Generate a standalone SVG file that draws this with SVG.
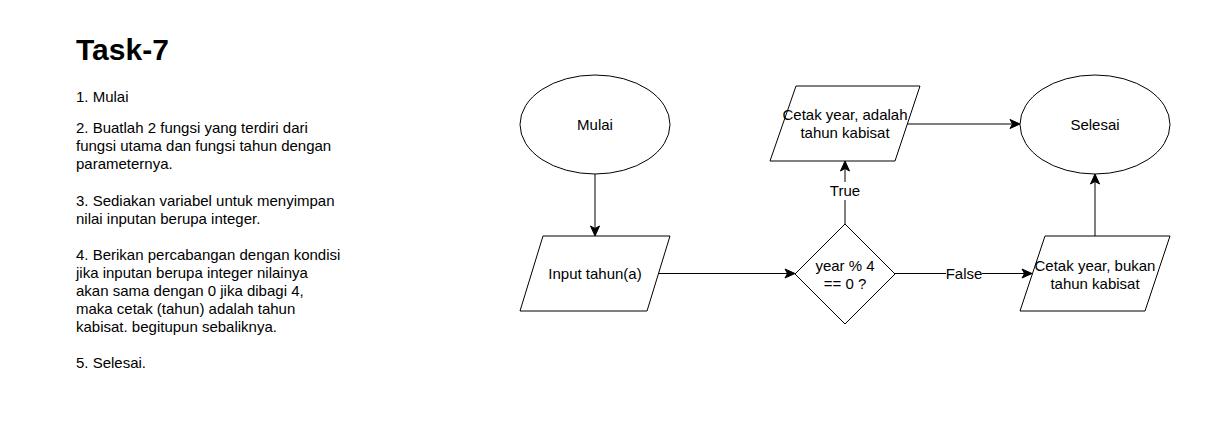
<svg xmlns="http://www.w3.org/2000/svg" width="1218" height="428" viewBox="0 0 1218 428">
<style>
.t{font-family:"Liberation Sans",Arial,sans-serif;font-size:15px;fill:#000}
.n{font-family:"Liberation Sans",Arial,sans-serif;font-size:15px;fill:#000;text-anchor:middle}
.s{fill:#fff;stroke:#000;stroke-width:1}
.c{fill:none;stroke:#000;stroke-width:1}
.bg{fill:#fff;stroke:none}
</style>
<defs>
<marker id="a" markerWidth="12" markerHeight="12" refX="10" refY="6" orient="auto" markerUnits="userSpaceOnUse">
<path d="M1,1.5 L11,6 L1,10.5 L3.5,6 Z" fill="#000" stroke="#000" stroke-width="1"/>
</marker>
</defs>
<rect width="1218" height="428" fill="#fff"/>
<g id="notes">
<text x="76" y="60" style="font-family:'Liberation Sans',Arial,sans-serif;font-size:30px;font-weight:bold">Task-7</text>
<text class="t" x="76" y="102">1. Mulai</text>
<text class="t" x="76" y="133">2. Buatlah 2 fungsi yang terdiri dari</text>
<text class="t" x="76" y="151">fungsi utama dan fungsi tahun dengan</text>
<text class="t" x="76" y="169">parameternya.</text>
<text class="t" x="76" y="206">3. Sediakan variabel untuk menyimpan</text>
<text class="t" x="76" y="224">nilai inputan berupa integer.</text>
<text class="t" x="76" y="260">4. Berikan percabangan dengan kondisi</text>
<text class="t" x="76" y="278">jika inputan berupa integer nilainya</text>
<text class="t" x="76" y="296">akan sama dengan 0 jika dibagi 4,</text>
<text class="t" x="76" y="314">maka cetak (tahun) adalah tahun</text>
<text class="t" x="76" y="332">kabisat. begitupun sebaliknya.</text>
<text class="t" x="76" y="368">5. Selesai.</text>
</g>
<g id="connectors">
<path class="c" d="M595,174 V235" marker-end="url(#a)"/>
<path class="c" d="M658,273.5 H794" marker-end="url(#a)"/>
<path class="c" d="M845,224 V162" marker-end="url(#a)"/>
<path class="c" d="M907,124 H1019" marker-end="url(#a)"/>
<path class="c" d="M895,273.5 H1031" marker-end="url(#a)"/>
<path class="c" d="M1095,236 V175" marker-end="url(#a)"/>
<rect class="bg" x="828" y="182" width="34" height="18"/>
<text class="n" x="845" y="196">True</text>
<rect class="bg" x="946" y="264" width="36" height="18"/>
<text class="n" x="964" y="278.5">False</text>
</g>
<g id="mulai">
<ellipse class="s" cx="595" cy="124.5" rx="75" ry="49.5"/>
<text class="n" x="595" y="129.5">Mulai</text>
</g>
<g id="input">
<path class="s" d="M543,236 H670 L647,311 H520 Z"/>
<text class="n" x="595" y="279">Input tahun(a)</text>
</g>
<g id="decision">
<path class="s" d="M845,224 L895,274 L845,324 L795,274 Z"/>
<text class="n" x="845" y="270.5">year % 4</text>
<text class="n" x="845" y="288.5">== 0 ?</text>
</g>
<g id="cetak-true">
<path class="s" d="M796,86 H920 L895,161 H770 Z"/>
<text class="n" x="845" y="120">Cetak year, adalah</text>
<text class="n" x="845" y="138">tahun kabisat</text>
</g>
<g id="selesai">
<ellipse class="s" cx="1095" cy="124.5" rx="75" ry="49.5"/>
<text class="n" x="1095" y="129.5">Selesai</text>
</g>
<g id="cetak-false">
<path class="s" d="M1045,236 H1170 L1145,311 H1020 Z"/>
<text class="n" x="1095" y="270.5">Cetak year, bukan</text>
<text class="n" x="1095" y="288.5">tahun kabisat</text>
</g>
</svg>
